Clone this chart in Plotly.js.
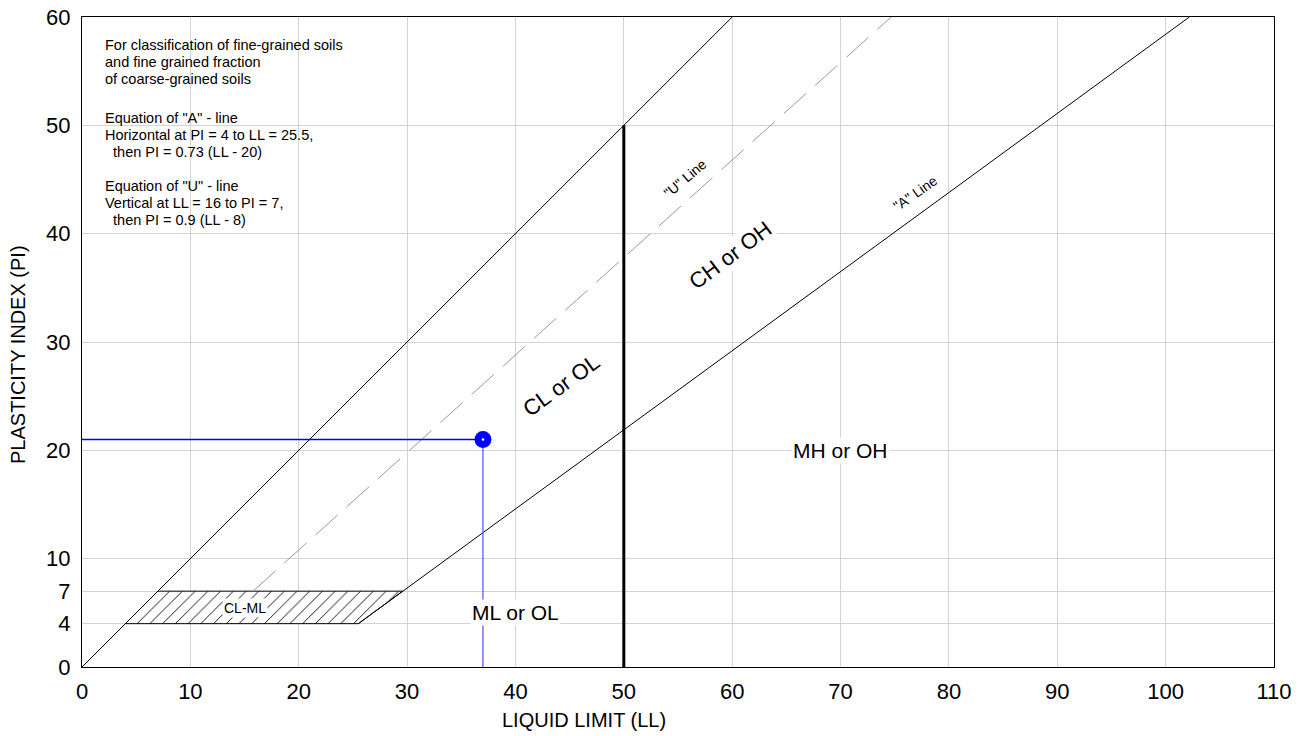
<!DOCTYPE html>
<html>
<head>
<meta charset="utf-8">
<script src="https://cdn.plot.ly/plotly-3.0.1.min.js"></script>
<style>html,body{margin:0;padding:0;background:#fff;}#chart{width:1304px;height:736px;}</style>
</head>
<body>
<div id="chart"></div>
<script>
// ---- data ----
const llTicks = [0, 10, 20, 30, 40, 50, 60, 70, 80, 90, 100, 110];
const piTicks = [0, 4, 7, 10, 20, 30, 40, 50, 60];

const boundaryLL = [0, 60];
const boundaryPI = [0, 60];

const uLineLL = [15.78, 74.67];
const uLinePI = [7, 60];

const aLineLL = [25.5, 102.19];
const aLinePI = [4, 60];

const clmlLL = [4, 25.5, 29.59, 7, 4];
const clmlPI = [4, 4, 7, 7, 4];

const dividerLL = [50, 50];
const dividerPI = [0, 50];

const sampleLL = [37];
const samplePI = [21];

const guideHLL = [0, 37];
const guideHPI = [21, 21];
const guideVLL = [37, 37];
const guideVPI = [0, 21];

const regionLabels = ['CL-ML', 'ML or OL', 'MH or OH', 'CL or OL', 'CH or OH', '"U" Line', '"A" Line'];
const regionLL = [15.0, 40.0, 70.0, 44.2, 59.8, 55.7, 76.9];
const regionPI = [5.45, 5.0, 20.0, 26.0, 38.0, 45.1, 43.8];

const noteLines = [
  'For classification of fine-grained soils',
  'and fine grained fraction',
  'of coarse-grained soils',
  'Equation of "A" - line',
  'Horizontal at PI = 4 to LL = 25.5,',
  '  then PI = 0.73 (LL - 20)',
  'Equation of "U" - line',
  'Vertical at LL = 16 to PI = 7,',
  '  then PI = 0.9 (LL - 8)'
];
const notePI = [57.4, 55.85, 54.28, 50.68, 49.1, 47.5, 44.4, 42.8, 41.26];

const xTitle = 'LIQUID LIMIT (LL)';
const yTitle = 'PLASTICITY INDEX (PI)';

// ---- styling ----
const FONT = 'Liberation Sans, Arial, sans-serif';
const regionStyle = [
  {size: 14, angle: 0},
  {size: 21, angle: 0},
  {size: 21, angle: 0},
  {size: 22, angle: -36},
  {size: 22, angle: -37},
  {size: 14, angle: -40},
  {size: 14, angle: -35}
];

const traces = [
  {x: clmlLL, y: clmlPI, mode: 'lines', fill: 'toself', fillcolor: 'white',
   fillpattern: {shape: '/', fgcolor: 'black', bgcolor: 'white', size: 9, solidity: 0.1},
   line: {color: 'black', width: 1}, hoverinfo: 'skip'},
  {x: boundaryLL, y: boundaryPI, mode: 'lines', line: {color: 'black', width: 1}},
  {x: uLineLL, y: uLinePI, mode: 'lines', line: {color: '#999999', width: 1, dash: '30px,12px'}},
  {x: aLineLL, y: aLinePI, mode: 'lines', line: {color: 'black', width: 1}},
  {x: dividerLL, y: dividerPI, mode: 'lines', line: {color: 'black', width: 3}},
  {x: guideHLL, y: guideHPI, mode: 'lines', line: {color: '#0000ff', width: 1.3}},
  {x: guideVLL, y: guideVPI, mode: 'lines', line: {color: '#4d4dff', width: 1.2}},
  {x: sampleLL, y: samplePI, mode: 'markers', marker: {color: '#0000ff', size: 17, line: {width: 0}}},
  {x: sampleLL, y: samplePI, mode: 'markers', marker: {color: 'white', size: 2.5, line: {width: 0}}}
];

const annotations = [];
regionLabels.forEach((t, i) => {
  annotations.push({
    x: regionLL[i], y: regionPI[i], xref: 'x', yref: 'y', text: t, showarrow: false,
    textangle: regionStyle[i].angle, bgcolor: 'white', borderpad: 1,
    font: {family: FONT, size: regionStyle[i].size, color: 'black'}
  });
});
noteLines.forEach((t, i) => {
  annotations.push({
    x: 1.94, y: notePI[i], xref: 'x', yref: 'y', text: t.replace(/^  /, '&nbsp;&nbsp;'),
    showarrow: false, xanchor: 'left', yanchor: 'middle',
    font: {family: FONT, size: 14.5, color: 'black'}
  });
});
annotations.push({
  x: 46.3, y: 0, xref: 'x', yref: 'paper', yshift: -53, text: xTitle, showarrow: false,
  xanchor: 'center', yanchor: 'middle', font: {family: FONT, size: 20, color: 'black'}
});
annotations.push({
  x: 0, y: 28.8, xref: 'paper', yref: 'y', xshift: -64, text: yTitle, showarrow: false,
  textangle: -90, xanchor: 'center', yanchor: 'middle', font: {family: FONT, size: 20, color: 'black'}
});

const layout = {
  width: 1304, height: 736,
  margin: {l: 82, r: 30, t: 17, b: 69},
  paper_bgcolor: 'white', plot_bgcolor: 'white',
  showlegend: false,
  font: {family: FONT, color: 'black'},
  xaxis: {
    range: [0, 110], tickvals: llTicks, ticktext: llTicks.map(String),
    showgrid: true, gridcolor: '#d3d3d3', gridwidth: 1,
    showline: true, linecolor: 'black', linewidth: 1, mirror: true,
    ticks: '', ticklabelstandoff: 5, zeroline: false,
    tickfont: {family: FONT, size: 22, color: 'black'}
  },
  yaxis: {
    range: [0, 60], tickvals: piTicks, ticktext: piTicks.map(String),
    showgrid: true, gridcolor: '#d3d3d3', gridwidth: 1,
    showline: true, linecolor: 'black', linewidth: 1, mirror: true,
    ticks: '', ticklabelstandoff: 6, zeroline: false,
    tickfont: {family: FONT, size: 22, color: 'black'}
  },
  annotations: annotations
};

Plotly.newPlot('chart', traces, layout, {displayModeBar: false, staticPlot: true});
</script>
</body>
</html>
